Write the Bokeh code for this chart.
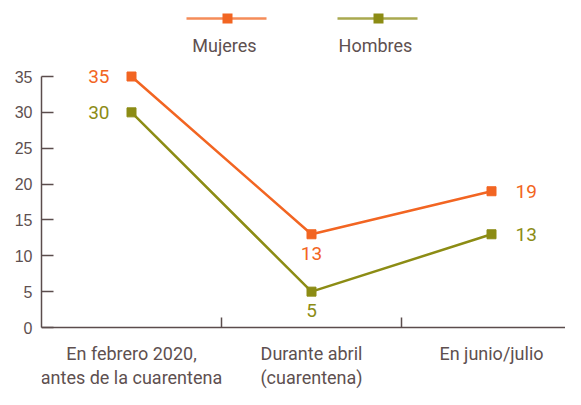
from bokeh.plotting import figure
from bokeh.models import Range1d, FixedTicker, Label, BoxAnnotation, Arrow, ColumnDataSource
from bokeh.embed import file_html
from bokeh.resources import INLINE
from bokeh.core.properties import value

categories = ["En febrero 2020,\nantes de la cuarentena", "Durante abril\n(cuarentena)", "En junio/julio"]
mujeres = [35, 13, 19]
hombres = [30, 5, 13]
y_ticks = [0, 5, 10, 15, 20, 25, 30, 35]
series_names = ["Mujeres", "Hombres"]

ORANGE = "#F26522"
OLIVE = "#8C8C14"
TEXT = "#5E5050"
AXIS = "#5B4D4D"
FONT = "Roboto"

xpos = [i + 0.5 for i in range(len(categories))]

W, H = 565, 389
LEFT = 41
# vertical scale: 0 -> 327 px, 35 -> 76 px
pxu = (327 - 76) / 35.0
y_top = 327 / pxu
y_bot = -(H - 327) / pxu
x_end = (W - LEFT) / 180.0

p = figure(width=W, height=H, output_backend="svg", toolbar_location=None,
           x_range=Range1d(0, x_end), y_range=Range1d(y_bot, y_top),
           min_border_left=LEFT, min_border_right=0, min_border_top=0, min_border_bottom=0)
p.outline_line_color = None
p.xgrid.visible = False
p.ygrid.visible = False
p.background_fill_color = "white"

# y axis
ya = p.yaxis[0]
ya.ticker = FixedTicker(ticks=y_ticks, minor_ticks=[])
ya.bounds = (0, 35)
ya.major_tick_in = 12
ya.major_tick_out = 0
ya.minor_tick_in = 0
ya.minor_tick_out = 0
ya.axis_line_color = AXIS
ya.axis_line_width = 1.5
ya.major_tick_line_color = AXIS
ya.major_tick_line_width = 1.5
ya.major_label_text_font = "Liberation Sans"
ya.major_label_text_font_size = "16px"
ya.major_label_text_color = TEXT
ya.major_label_standoff = 9

# x axis drawn at y = 0
xa = p.xaxis[0]
xa.fixed_location = 0
xa.ticker = FixedTicker(ticks=xpos, minor_ticks=[1, 2])
xa.major_label_overrides = {x: c for x, c in zip(xpos, categories)}
xa.major_tick_in = 0
xa.major_tick_out = 0
xa.minor_tick_in = 10
xa.minor_tick_out = 0
xa.minor_tick_line_color = AXIS
xa.minor_tick_line_width = 1.5
xa.axis_line_color = AXIS
xa.axis_line_width = 1.5
xa.major_label_text_font = FONT
xa.major_label_text_font_size = "18px"
xa.major_label_text_color = TEXT
xa.major_label_standoff = 15
xa.major_label_text_line_height = 1.15

series = [(mujeres, ORANGE), (hombres, OLIVE)]
for vals, col in series:
    src = ColumnDataSource(dict(x=xpos, y=vals))
    p.line("x", "y", source=src, line_color=col, line_width=2.5)
    p.scatter("x", "y", source=src, marker="square", size=9, fill_color=col, line_color=col)

# data labels
for idx, (vals, col) in enumerate(series):
    for i, v in enumerate(vals):
        if i == 0:
            align, dx, dy = "right", -22, 0
        elif i == 1:
            align, dx, dy = "center", 0, 19
        else:
            align, dx, dy = "left", 24, 0
        p.text(x=[xpos[i]], y=[v], text=[str(v)], text_align=align, text_baseline="middle",
               x_offset=dx, y_offset=dy, text_color=col, text_font=value(FONT),
               text_font_size="19px")

# legend (top, label under line)
leg_centers = [227, 378]
for name, (vals, col), cx in zip(series_names, series, leg_centers):
    p.add_layout(Arrow(end=None, x_start=cx - 41, y_start=18, x_end=cx + 39, y_end=18,
                       start_units="canvas", end_units="canvas",
                       line_color=col, line_alpha=0.75, line_width=2.5))
    p.add_layout(BoxAnnotation(left=cx - 5, right=cx + 5, top=13, bottom=23,
                               left_units="canvas", right_units="canvas",
                               top_units="canvas", bottom_units="canvas",
                               fill_color=col, fill_alpha=1, line_color=None))
    p.add_layout(Label(x=cx - 3, y=45, x_units="canvas", y_units="canvas", text=name,
                       text_align="center", text_baseline="middle", text_color=TEXT,
                       text_font=FONT, text_font_size="18px"))

open("out.html", "w").write(file_html(p, INLINE))
